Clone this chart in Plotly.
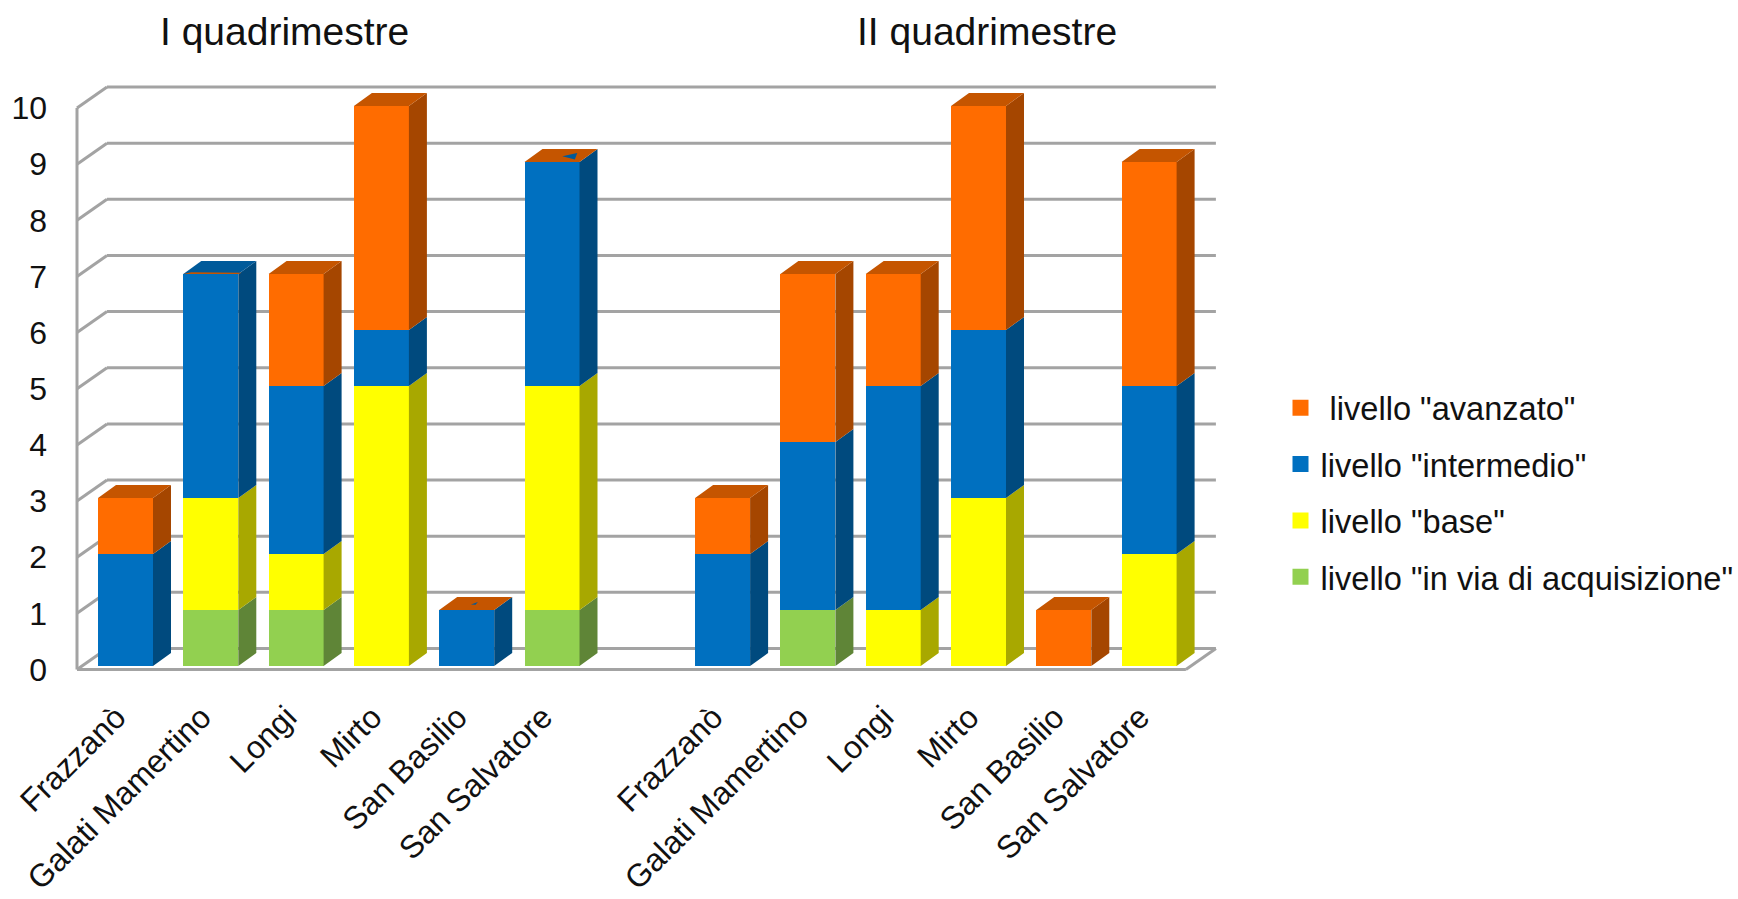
import plotly.graph_objects as go

# ---------- data ----------
categories = ["Frazzanò", "Galati Mamertino", "Longi", "Mirto", "San Basilio", "San Salvatore"]
period_titles = ["I quadrimestre", "II quadrimestre"]
series_names = ['livello "in via di acquisizione"', 'livello "base"', 'livello "intermedio"', '\u00a0livello "avanzato"']

q1_acquisizione = [0, 1, 1, 0, 0, 1]
q1_base = [0, 2, 1, 5, 0, 4]
q1_intermedio = [2, 4, 3, 1, 1, 4]
q1_avanzato = [1, 0, 2, 4, 0, 0]

q2_acquisizione = [0, 1, 0, 0, 0, 0]
q2_base = [0, 0, 1, 3, 0, 2]
q2_intermedio = [2, 3, 4, 3, 0, 3]
q2_avanzato = [1, 3, 2, 4, 1, 4]

y_ticks = list(range(0, 11))

# ---------- style ----------
FRONT = ["#92D050", "#FFFF00", "#0070C0", "#FF6C00"]
SIDE = ["#5F8537", "#A8A800", "#004A7E", "#A54600"]
TOP = ["#73A53F", "#CCCC00", "#005A9A", "#C55500"]
WALL = "#A3A3A3"
FONT = "Liberation Sans, Arial, sans-serif"
W, H = 1738, 899

# pixel frame of the plot area and of the two planes
L, R, T, B = 74, 1220, 84, 672
SLOT = 85.3
X0_PX = 125.5            # centre of the first bar
BAR_W_PX = 55
WALL_Y0, WALL_UNIT = 669.5, 56.15
BAR_Y0, BAR_UNIT = 666.0, 56.0
WALL_DX, WALL_DY = 30 / SLOT, 21 / WALL_UNIT
BAR_DX, BAR_DY = 18 / SLOT, 13 / BAR_UNIT
HW = BAR_W_PX / SLOT / 2

x_range = [(L - X0_PX) / SLOT, (R - X0_PX) / SLOT]
y_range = [(WALL_Y0 - B) / WALL_UNIT, (WALL_Y0 - T) / WALL_UNIT]
y2_range = [(BAR_Y0 - B) / BAR_UNIT, (BAR_Y0 - T) / BAR_UNIT]


def paper_x(px):
    return (px - L) / (R - L)


def paper_y(px):
    return (B - px) / (B - T)


# ---------- positions derived from the data ----------
n = len(categories)
positions = list(range(n)) + [n + 1 + i for i in range(n)]
tick_text = categories + categories
stacks = [
    q1_acquisizione + q2_acquisizione,
    q1_base + q2_base,
    q1_intermedio + q2_intermedio,
    q1_avanzato + q2_avanzato,
]

fig = go.Figure()

# front faces
for s, values in enumerate(stacks):
    fig.add_trace(go.Bar(
        x=positions, y=values, width=2 * HW, yaxis="y2", name=series_names[s],
        marker=dict(color=FRONT[s], line=dict(width=0)), showlegend=False,
    ))

# side faces and top faces
side_x = [[] for _ in stacks]
side_y = [[] for _ in stacks]
top_x = [[] for _ in stacks]
top_y = [[] for _ in stacks]
detail_traces = []
# zero-height orange segment leaves its colour on the top face of these bars
top_override = {4: 3, 5: 3}

for i, x in enumerate(positions):
    base = 0
    last = 0
    for s, values in enumerate(stacks):
        v = values[i]
        if v > 0:
            xr = x + HW
            side_x[s] += [xr, xr + BAR_DX, xr + BAR_DX, xr, xr, None]
            side_y[s] += [base, base + BAR_DY, base + v + BAR_DY, base + v, base, None]
            last = s
        base += v
    t = top_override.get(i, last)
    xl = x - HW
    xr = x + HW
    top_x[t] += [xl, xr, xr + BAR_DX, xl + BAR_DX, xl, None]
    top_y[t] += [base, base, base + BAR_DY, base + BAR_DY, base, None]


def top_patch(i, uv, color):
    x = positions[i]
    top = sum(st[i] for st in stacks)
    xs = [x - HW + u * 2 * HW + v * BAR_DX for u, v in uv]
    ys = [top + v * BAR_DY for u, v in uv]
    return go.Scatter(x=xs + xs[:1], y=ys + ys[:1], yaxis="y2", mode="lines", fill="toself",
                      fillcolor=color, line=dict(width=0), hoverinfo="skip", showlegend=False)


detail_traces.append(top_patch(1, [(0, 0), (1, 0), (1.03, 0.1), (0.1, 0.14)], TOP[3]))
detail_traces.append(top_patch(5, [(0.54, 0.45), (0.73, 0.7), (0.85, 0.2)], TOP[2]))
detail_traces.append(top_patch(4, [(0.44, 0.42), (0.5, 0.62), (0.53, 0.4)], TOP[2]))

for s in range(len(stacks)):
    if side_x[s]:
        fig.add_trace(go.Scatter(x=side_x[s], y=side_y[s], yaxis="y2", mode="lines", fill="toself",
                                 fillcolor=SIDE[s], line=dict(width=0), hoverinfo="skip", showlegend=False))
    if top_x[s]:
        fig.add_trace(go.Scatter(x=top_x[s], y=top_y[s], yaxis="y2", mode="lines", fill="toself",
                                 fillcolor=TOP[s], line=dict(width=0), hoverinfo="skip", showlegend=False))
for tr in detail_traces:
    fig.add_trace(tr)

# primary y axis carries the tick labels on the front edge of the left wall
fig.add_trace(go.Scatter(x=[positions[0]] * len(y_ticks), y=y_ticks, mode="markers",
                         marker=dict(opacity=0), hoverinfo="skip", showlegend=False))

# legend entries (top to bottom)
for s in reversed(range(len(stacks))):
    fig.add_trace(go.Scatter(x=[None], y=[None], mode="markers", name=series_names[s],
                             legendgroup=str(s),
                             marker=dict(symbol="square", size=18, color=FRONT[s])))

# walls and floor
x_front_l = (77 - X0_PX) / SLOT
x_front_r = x_front_l + 13
shapes = []


def wall_line(x0, y0, x1, y1):
    shapes.append(dict(type="line", xref="x", yref="y", x0=x0, y0=y0, x1=x1, y1=y1,
                       layer="below", line=dict(color=WALL, width=3)))


for v in y_ticks:
    wall_line(x_front_l, v, x_front_l + WALL_DX, v + WALL_DY)
    wall_line(x_front_l + WALL_DX, v + WALL_DY, x_front_r + WALL_DX, v + WALL_DY)
wall_line(x_front_l, y_ticks[0], x_front_l, y_ticks[-1])
wall_line(x_front_l, 0, x_front_r, 0)
wall_line(x_front_r, 0, x_front_r + WALL_DX, WALL_DY)

# period titles
title_px = [284, 987]
annotations = [
    dict(text=t, xref="paper", yref="paper", x=paper_x(px), y=paper_y(31), showarrow=False,
         xanchor="center", yanchor="middle", font=dict(size=39, color="#111111", family=FONT))
    for t, px in zip(period_titles, title_px)
]

fig.update_layout(
    width=W, height=H, autosize=False,
    margin=dict(l=L, r=W - R, t=T, b=H - B, pad=0, autoexpand=False),
    paper_bgcolor="white", plot_bgcolor="white",
    barmode="stack", bargap=0,
    font=dict(family=FONT, size=32, color="#111111"),
    hovermode=False,
    xaxis=dict(range=x_range, tickmode="array", tickvals=positions, ticktext=tick_text,
               tickangle=-45, showgrid=False, zeroline=False, showline=False,
               ticks="", ticklabelstandoff=19, ticklabelshift=-9, tickfont=dict(size=32, color="#111111")),
    yaxis=dict(range=y_range, tickmode="array", tickvals=y_ticks, showgrid=False, zeroline=False,
               showline=False, ticks="", ticklabelstandoff=26, tickfont=dict(size=32, color="#111111")),
    yaxis2=dict(range=y2_range, overlaying="y", side="right", visible=False),
    legend=dict(x=paper_x(1280.5), y=paper_y(380), xanchor="left", yanchor="top",
                traceorder="grouped", tracegroupgap=11, font=dict(size=32.6, color="#111111"),
                bgcolor="rgba(0,0,0,0)", itemwidth=30),
    shapes=shapes, annotations=annotations,
)

fig.write_html("out.html", config={"displayModeBar": False},
               post_script="document.body.style.margin='0';document.body.style.overflow='hidden';")
